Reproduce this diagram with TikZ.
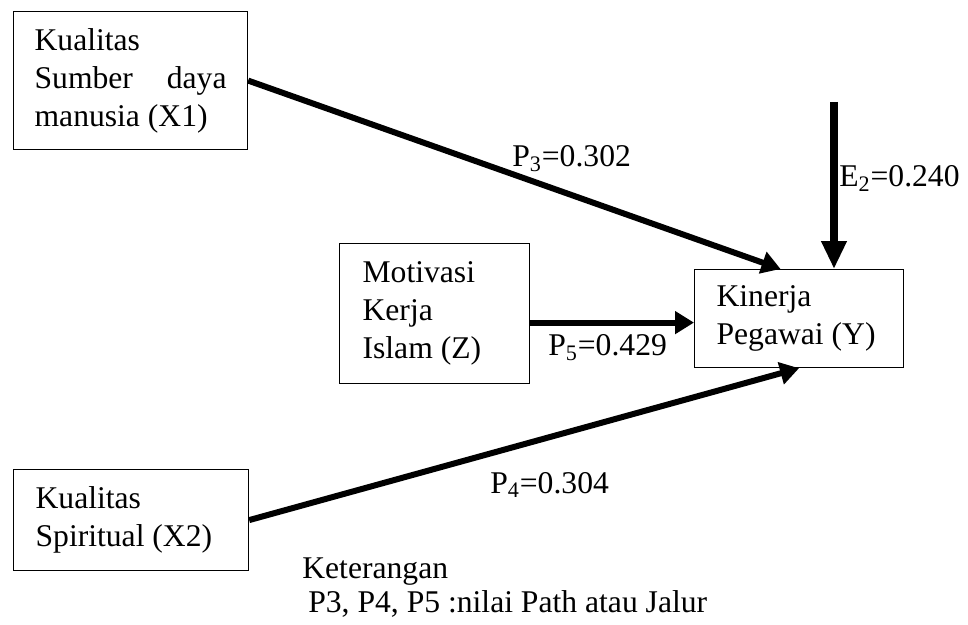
\documentclass[tikz,border=0pt]{standalone}
\usepackage{fontspec}
\setmainfont{Liberation Serif}
\usepackage{tikz}
\usetikzlibrary{positioning, arrows.meta}

\begin{document}
\begin{tikzpicture}[
  x=0.02cm, y=-0.02cm,
  varbox/.style={
    draw, line width=0.7pt, anchor=north west, inner sep=0pt,
    font=\fontsize{18}{21.6}\selectfont
  },
  conn/.style={-{Triangle[length=0.38cm, width=0.44cm]}, line width=0.12cm},
  bigconn/.style={-{Triangle[length=0.56cm, width=0.48cm]}, line width=0.17cm},
  coef/.style={anchor=base west, inner sep=0pt, font=\fontsize{18}{21.6}\selectfont}
]
  \useasboundingbox (0,0) rectangle (968,625);

  \node[varbox, minimum width=4.68cm, minimum height=2.76cm, text width=3.84cm, align=justify]
    (sdm) at (13,11) {Kualitas\\ Sumber daya manusia (X1)};
  \node[varbox, minimum width=4.70cm, minimum height=2.02cm, text width=3.82cm, align=flush left]
    (spirit) at (13,469) {Kualitas\\ Spiritual (X2)};
  \node[varbox, minimum width=3.80cm, minimum height=2.80cm, text width=2.88cm, align=flush left]
    (motiv) at (339,243) {Motivasi\\ Kerja\\ Islam (Z)};
  \node[varbox, minimum width=4.18cm, minimum height=1.96cm, text width=3.30cm, align=flush left]
    (kinerja) at (694,269) {Kinerja\\ Pegawai (Y)};

  \coordinate (e2top) at (834,102);

  \draw[conn] (sdm.east) -- ([xshift=-0.37cm]kinerja.north);
  \draw[conn] ([yshift=-0.18cm]motiv.east) -- ([yshift=-0.18cm]motiv.east -| kinerja.west);
  \draw[conn] (spirit.east) -- (kinerja.south);
  \draw[bigconn] (e2top) -- (e2top |- kinerja.north);

  \node[coef] (p3) at (512,167) {P\textsubscript{3}=0.302};
  \node[coef] (e2) at (839,187) {E\textsubscript{2}=0.240};
  \node[coef] (p5) at (548,356) {P\textsubscript{5}=0.429};
  \node[coef] (p4) at (490,493) {P\textsubscript{4}=0.304};

  \node[coef] (ket) at (302,578) {Keterangan};
  \node[coef] (ketisi) at (308,612) {P3, P4, P5 :nilai Path atau Jalur};
\end{tikzpicture}
\end{document}
